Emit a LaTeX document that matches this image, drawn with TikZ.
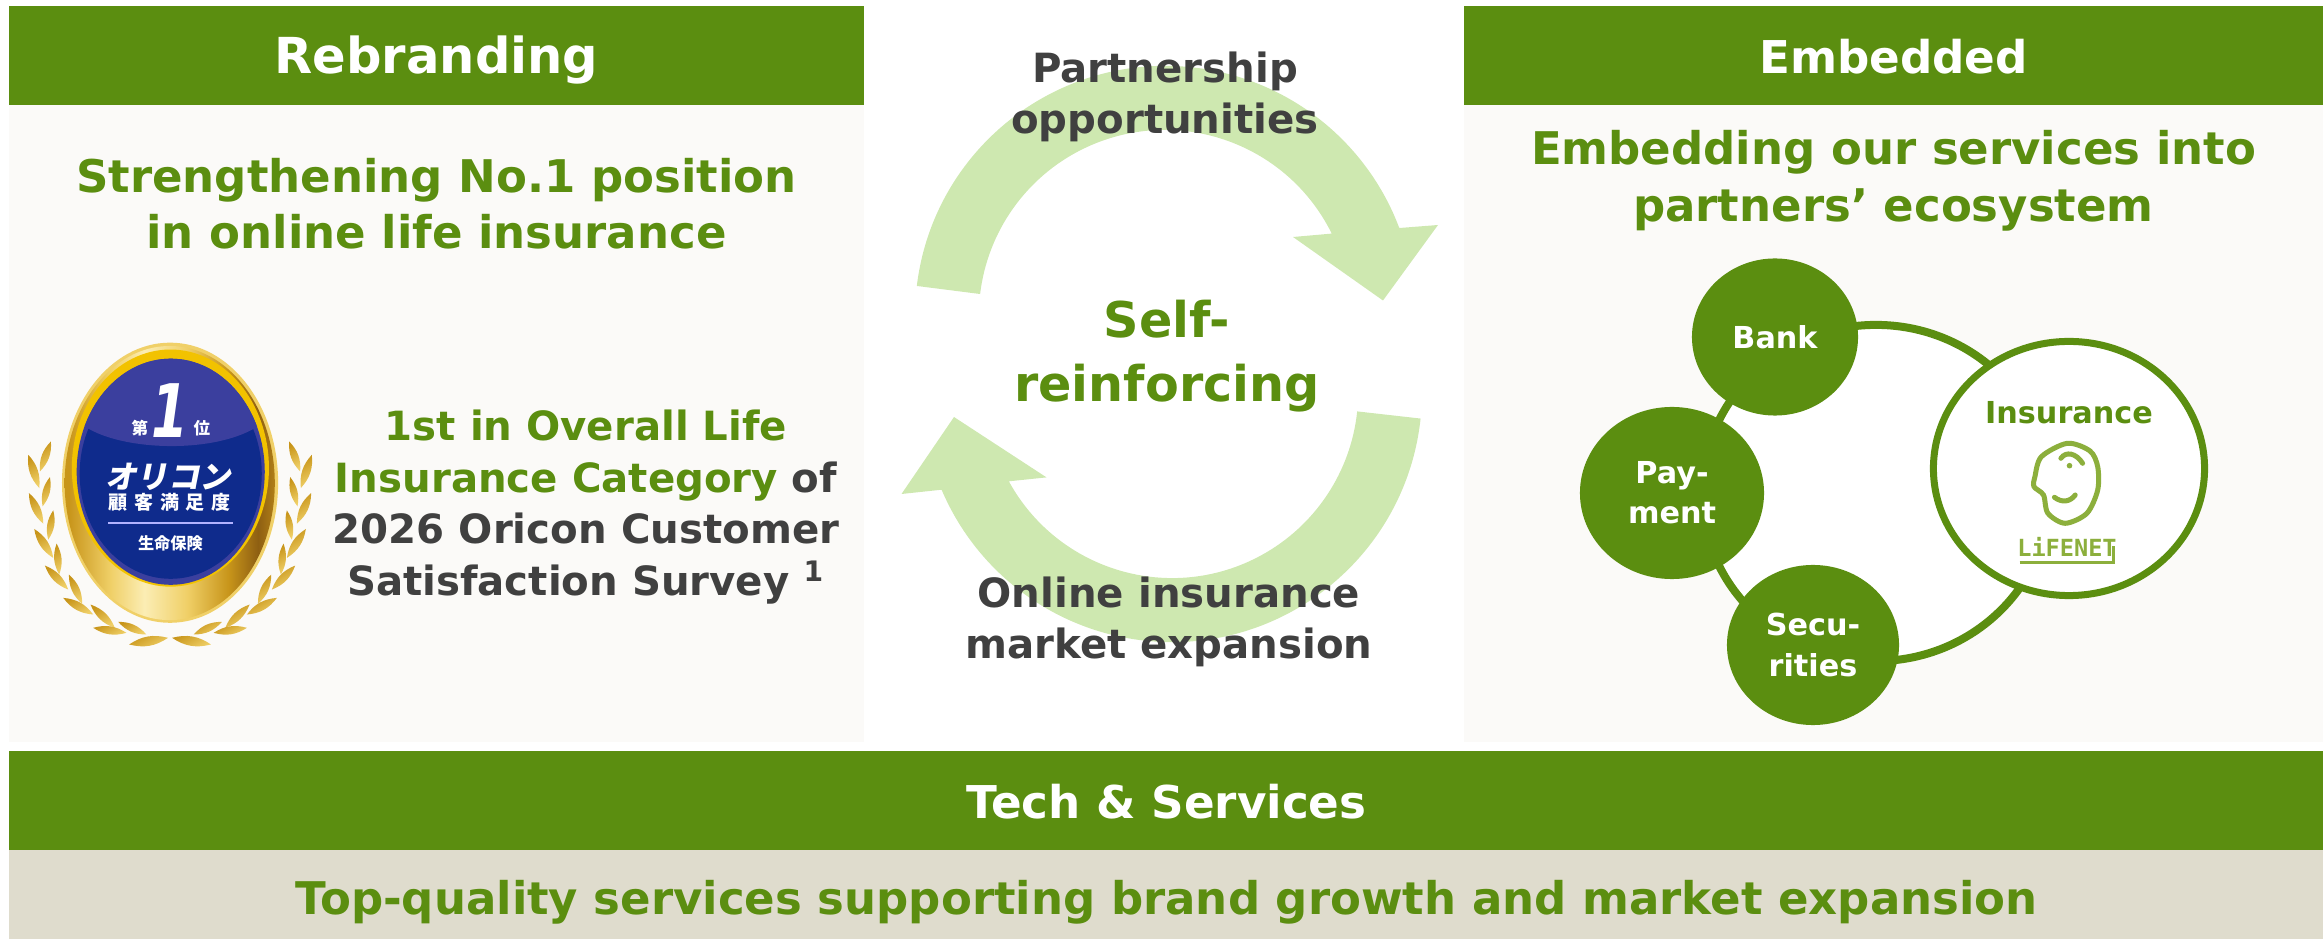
\documentclass[tikz,border=0pt]{standalone}
\usepackage{fontspec}
\setmainfont{DejaVu Sans}
\newfontfamily\cjk{Noto Sans CJK JP}
\newfontfamily\logofont{DejaVu Sans Mono}
\usetikzlibrary{calc,positioning,shapes.geometric}
\definecolor{leafgreen}{HTML}{5B8E10}
\definecolor{darktext}{HTML}{404040}
\definecolor{paleloop}{HTML}{CEE8B0}
\definecolor{panelbg}{HTML}{FBFAF8}
\definecolor{beige}{HTML}{DFDCCD}
\definecolor{logogreen}{HTML}{8CAF3C}
\definecolor{medalblue}{HTML}{0F2B8C}
\definecolor{medalcap}{HTML}{3B3F9E}
\definecolor{goldA}{HTML}{C8951A}
\definecolor{goldB}{HTML}{F0D068}
\definecolor{goldC}{HTML}{FBEDB4}
\definecolor{goldD}{HTML}{8E5F12}
\definecolor{goldE}{HTML}{F2C200}
\pgfdeclarehorizontalshading{goldband}{100bp}{
  color(0bp)=(goldA); color(26bp)=(goldA);
  color(36bp)=(goldB); color(44bp)=(goldC);
  color(54bp)=(goldB); color(64bp)=(goldA);
  color(71bp)=(goldD); color(78bp)=(goldA);
  color(100bp)=(goldB)}
\tikzset{
    %Define style for boxes
    headbox/.style={
           rectangle,
           fill=leafgreen,
           text=white,
           inner sep=0pt,
           minimum height=.99cm,
           text height=10.3pt,
           text depth=0pt,
           font=\bfseries\fontsize{12.85}{16}\selectfont,
           text centered},
    panelbox/.style={
           rectangle,
           fill=panelbg,
           inner sep=0pt,
           minimum width=8.55cm,
           minimum height=6.37cm},
    greentext/.style={
           text=leafgreen,
           align=center,
           inner sep=0pt,
           font=\bfseries\fontsize{12.8}{16}\selectfont},
    darkblock/.style={
           text=darktext,
           align=center,
           inner sep=0pt,
           font=\bfseries\fontsize{11.45}{14.7}\selectfont},
    %Define style for the circles
    member/.style={
           ellipse,
           fill=leafgreen,
           text=white,
           align=center,
           inner sep=0pt,
           font=\bfseries\fontsize{8.6}{11.4}\selectfont},
    %Define style for drawn shapes
    loopband/.style={fill=paleloop},
    wreathleaf/.style={left color=goldA, right color=goldB, shading angle=30},
    facepen/.style={draw=logogreen, line width=.5mm, line cap=round},
    medaltext/.style={text=white, inner sep=0pt, font=\cjk\bfseries}
}
\begin{document}
\begin{tikzpicture}[x=.01cm,y=.01cm]
\useasboundingbox (0,0) rectangle (2323,939);

 %panels
\node[panelbox](leftpanel) at (436.5,515.5){};
\node[panelbox, minimum width=8.59cm](rightpanel) at (1893.5,515.5){};
\node[headbox, minimum width=8.55cm, font=\bfseries\fontsize{14.1}{16}\selectfont](rebrand) at (436.5,883.5){Rebranding};
\node[headbox, minimum width=8.59cm](embed) at (1893.5,883.5){Embedded};
\node[headbox, minimum width=23.13cm](tech) at (1166.5,138.5){Tech \& Services};
\node[rectangle, fill=beige, inner sep=0pt, minimum width=23.13cm, minimum height=.89cm,
      greentext, text height=11.2pt, text depth=0pt](quality) at (1166.5,44.5){Top-quality services supporting brand growth and market expansion};

 %titles
\node[greentext, below=.98cm of rebrand, anchor=center](strength){Strengthening No.1 position\\in online life insurance};
\node[greentext, below=.75cm of embed, anchor=center](embedding){Embedding our services into\\partners’ ecosystem};
\node[darkblock, at={(586,432)}](survey){\textcolor{leafgreen}{1st in Overall Life}\\
  \textcolor{leafgreen}{Insurance Category} of\\2026 Oricon Customer\\Satisfaction Survey \textsuperscript{1}};

 %loop
\coordinate (uphub) at (1165,623);
\coordinate (lowhub) at (1172,547);
\fill[loopband] ($(uphub)+(173.1:250)$) arc[start angle=173.1,end angle=20.6,radius=2.5cm]
   -- (1438,714) -- (1383,638.5) -- (1293,702)
   -- ($(uphub)+(26.3:186)$) arc[start angle=26.3,end angle=173.2,radius=1.86cm] -- cycle;
\fill[loopband] ($(lowhub)+(-6.1:250)$) arc[start angle=-6.1,end angle=-157,radius=2.5cm]
   -- (901.5,445) -- (954,522) -- (1046.5,461.6)
   -- ($(lowhub)+(-151.3:186)$) arc[start angle=-151.3,end angle=-6,radius=1.86cm] -- cycle;
\node[darkblock, at={(1165,842)}](partner){Partnership\\opportunities};
\node[greentext, at={(1167,583)}, font=\bfseries\fontsize{14}{18.1}\selectfont](selfloop){Self-\\reinforcing};
\node[darkblock, at={(1169,317)}](online){Online insurance\\market expansion};

 %ecosystem
\node[ellipse, draw=leafgreen, line width=.08cm, fill=white, inner sep=0pt, minimum width=3.48cm, minimum height=3.36cm](ring) at (1876,446){};
\node[member, minimum width=1.66cm, minimum height=1.57cm](bank) at (1775,602){Bank};
\node[member, minimum width=1.84cm, minimum height=1.72cm](pay) at (1672,446){Pay-\\ment};
\node[member, minimum width=1.72cm, minimum height=1.6cm](secu) at (1813,294){Secu-\\rities};
\node[ellipse, draw=leafgreen, line width=.07cm, fill=white, inner sep=0pt, minimum width=2.71cm, minimum height=2.54cm](insure) at (2069,470.5){};
\node[member, fill=none, text=leafgreen, at={(2069,526)}](insuretext){Insurance};

 %logo
\draw[facepen] plot[smooth cycle] coordinates {(2067.4,495.7) (2090,488) (2097.7,472.3) (2097.7,449) (2086.9,425.7)
   (2065.2,415.7) (2047.9,425.7) (2043.5,444) (2034,452.3) (2034.9,462.3) (2041.4,482.3)};
\draw[facepen] (2054.4,441.7) .. controls (2062,436) and (2070,437) .. (2075.2,444);
\draw[facepen] (2060.9,480.7) .. controls (2066,488) and (2076,486) .. (2082.6,475.7);
\fill[logogreen] (2069.5,473.3) circle (.028cm);
\node[text=logogreen, inner sep=0pt, font=\logofont\bfseries\fontsize{6.7}{8}\selectfont](lifenet) at (2067,392){LiFENET};
\draw[draw=logogreen, line width=.03cm] (2019.7,376.3) -- (2113,376.3) -- (2113,393);

 %medal
\begin{scope}[shift={(0,619)},x=.0033333cm,y=-.0033333cm]
  \coordinate (medal) at (511,489);
  \foreach \m in {1,-1}{
    \begin{scope}[shift={(511,0)},xscale=\m]
      \foreach \bx/\by/\tx/\ty in {-391/455/-358/365,-393/505/-426/405,-383/560/-361/472,-381/612/-424/520,
         -366/660/-351/572,-351/715/-408/628,-333/765/-341/672,-306/810/-376/738,-264/853/-304/765,
         -231/885/-321/835,-166/925/-239/855,-131/940/-231/925,-71/945/-156/907,-6/955/-123/975}{
        \shade[wreathleaf] (\bx,\by) to[bend left=24] (\tx,\ty) to[bend left=24] (\bx,\by);
      }
    \end{scope}
  }
  \fill[goldB] (medal) circle[x radius=1.08cm,y radius=1.40cm];
  \shade[shading=goldband] (510,490) circle[x radius=1.05cm,y radius=1.37cm];
  \fill[goldE] (512,445) circle[x radius=.985cm,y radius=1.185cm];
  \fill[medalcap] (513,456) circle[x radius=.94cm,y radius=1.13cm];
  \fill[medalblue] (513,462) circle[x radius=.91cm,y radius=1.05cm];
  \begin{scope}
    \clip (513,456) circle[x radius=.94cm,y radius=1.13cm];
    \fill[medalcap] (200,100) rectangle (830,300)
       (230,300) .. controls (330,400) and (680,410) .. (800,300) -- cycle;
  \end{scope}
  \node[medaltext, font=\cjk\bfseries\fontsize{4.7}{5}\selectfont](dai) at (420,325){第};
  \node[medaltext, font=\cjk\bfseries\fontsize{4.7}{5}\selectfont](rank) at (607,325){位};
  \node[medaltext, font=\bfseries\itshape\fontsize{21}{22}\selectfont, xscale=.72, transform shape](one) at (510,272){1};
  \node[medaltext, font=\cjk\bfseries\fontsize{8.9}{10}\selectfont, xslant=.2, transform shape](oricon) at (512,472){オリコン};
  \node[medaltext, font=\cjk\bfseries\fontsize{5.4}{6}\selectfont](manzoku) at (510,548){顧\hspace{1.9pt}客\hspace{1.9pt}満\hspace{1.9pt}足\hspace{1.9pt}度};
  \coordinate (ruleleft) at (325,610);
  \coordinate (ruleright) at (700,610);
  \draw[white!70!blue, line width=.015cm] (ruleleft) -- (ruleright);
  \node[medaltext, font=\cjk\bfseries\fontsize{4.6}{5}\selectfont](seimei) at (512,672){生命保険};
\end{scope}
\end{tikzpicture}
\end{document}
